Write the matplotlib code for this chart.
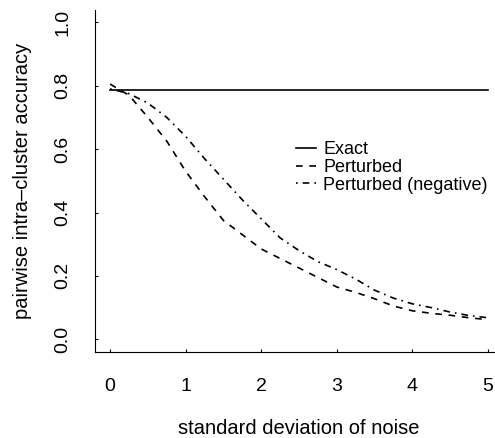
import matplotlib
matplotlib.use("Agg")
import matplotlib.pyplot as plt

# noise levels and accuracies
noise = [0, 0.25, 0.5, 0.75, 1.0, 1.25, 1.5, 1.75, 2.0, 2.25, 2.5,
         2.75, 3.0, 3.25, 3.5, 3.75, 4.0, 4.25, 4.5, 4.75, 5.0]
exact = [0.785] * len(noise)
perturbed = [0.805, 0.77, 0.70, 0.625, 0.53, 0.45, 0.375, 0.33, 0.285, 0.255, 0.225,
             0.195, 0.165, 0.148, 0.128, 0.105, 0.09, 0.082, 0.076, 0.068, 0.062]
perturbed_neg = [0.79, 0.775, 0.745, 0.70, 0.64, 0.57, 0.505, 0.44, 0.38, 0.32, 0.28,
                 0.245, 0.22, 0.19, 0.155, 0.13, 0.112, 0.10, 0.086, 0.075, 0.068]
labels = ["Exact", "Perturbed", "Perturbed (negative)"]

plt.rcParams["font.family"] = ["Liberation Sans", "DejaVu Sans"]

fig = plt.figure(figsize=(4.95, 4.38), dpi=100)
W, H = 495, 438
ax = fig.add_axes([95 / W, 1 - 352 / H, 408 / W, (352 - 9.6) / H])

ax.plot(noise, exact, color="black", lw=1.2, linestyle="-", label=labels[0])
ax.plot(noise, perturbed, color="black", lw=1.2, linestyle=(0, (4, 4)), label=labels[1])
ax.plot(noise, perturbed_neg, color="black", lw=1.2, linestyle=(0, (1, 3, 4, 3)), label=labels[2])

ax.set_xlim(-0.2, 5.2)
ax.set_ylim(-0.04, 1.04)
ax.set_xticks([0, 1, 2, 3, 4, 5])
ax.set_yticks([0.0, 0.2, 0.4, 0.6, 0.8, 1.0])
ax.set_yticklabels(["0.0", "0.2", "0.4", "0.6", "0.8", "1.0"], rotation=90, va="center")
ax.spines["top"].set_visible(False)
ax.spines["right"].set_visible(False)
ax.tick_params(direction="in", length=2, labelsize=14, pad=19)
ax.tick_params(axis="y", pad=17)

ax.set_xlabel("standard deviation of noise", fontsize=14.5, labelpad=17)
ax.set_ylabel("pairwise intra\u2013cluster accuracy", fontsize=14.5, labelpad=16)

ax.legend(frameon=False, loc="upper left", bbox_to_anchor=(296 / W, 1 - 141 / H),
          bbox_transform=fig.transFigure, fontsize=13, handlelength=1.1,
          handletextpad=0.4, labelspacing=0.05, borderpad=0, borderaxespad=0)

fig.savefig("out.png", dpi=100)
